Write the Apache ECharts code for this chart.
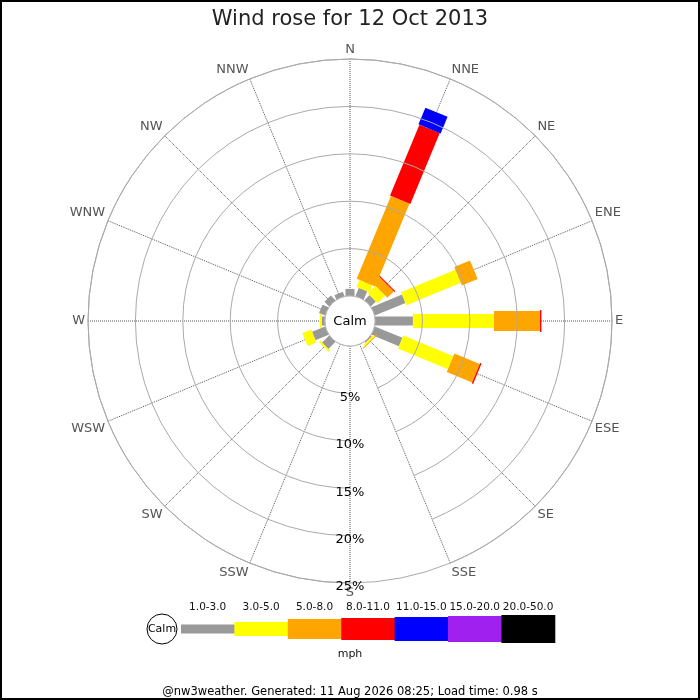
<!DOCTYPE html>
<html>
<head>
<meta charset="utf-8">
<script src="https://cdn.jsdelivr.net/npm/echarts@6/dist/echarts.min.js"></script>
<style>
html, body { margin: 0; padding: 0; background: #fff; }
#chart { width: 700px; height: 700px; }
</style>
</head>
<body>
<div id="chart"></div>
<script>
// directions listed clockwise starting from S, so the % labels sit on the S spoke
var dirs = ['S', 'SSW', 'SW', 'WSW', 'W', 'WNW', 'NW', 'NNW', 'N', 'NNE', 'NE', 'ENE', 'E', 'ESE', 'SE', 'SSE'];
var bands = ['1.0-3.0', '3.0-5.0', '5.0-8.0', '8.0-11.0', '11.0-15.0', '15.0-20.0', '20.0-50.0'];
// % of the day, per direction, per speed band (mph)
var v1to3   = [0, 0, 1.05, 1.5, 0.35, 0.7, 0.7, 0.5, 0.75, 0.95, 0.75, 3.5, 4.0, 3.15, 0.15, 0];
var v3to5   = [0, 0, 0.2, 1.0, 0.2, 0, 0, 0, 0, 0.8, 1.15, 6.2, 8.55, 5.7, 0.2, 0];
var v5to8   = [0, 0, 0, 0, 0, 0, 0, 0, 0, 9.45, 0.95, 1.8, 4.85, 2.9, 0.1, 0];
var v8to11  = [0, 0, 0, 0, 0, 0, 0, 0, 0, 8.1, 0.12, 0, 0.15, 0.15, 0, 0];
var v11to15 = [0, 0, 0, 0, 0, 0, 0, 0, 0, 1.9, 0, 0, 0, 0, 0, 0];
var v15to20 = [0, 0, 0, 0, 0, 0, 0, 0, 0, 0, 0, 0, 0, 0, 0, 0];
var v20to50 = [0, 0, 0, 0, 0, 0, 0, 0, 0, 0, 0, 0, 0, 0, 0, 0];
var pctMax = 25, pctStep = 5;

var colors = ['#999999', '#ffff00', '#ffa500', '#ff0000', '#0000ff', '#a020f0', '#000000'];
var widths = [9, 14, 20, 22, 24, 26, 28]; // bar thickness px, also legend box height
var font = 'DejaVu Sans';

var chart = echarts.init(document.getElementById('chart'));

// straight bar of fixed pixel width along a direction
function makeBar(w, color) {
    return function(params, api) {
        var a = api.value(1);
        var p0 = api.coord([api.value(2), a]);
        var p1 = api.coord([api.value(0), a]);
        var c = api.coord([0, a]);
        var f = api.coord([pctMax, a]);
        var ux = f[0] - c[0], uy = f[1] - c[1];
        var L = Math.sqrt(ux * ux + uy * uy) || 1;
        var nx = -uy / L * w / 2, ny = ux / L * w / 2;
        return {
            type: 'polygon',
            shape: { points: [[p0[0] + nx, p0[1] + ny], [p1[0] + nx, p1[1] + ny], [p1[0] - nx, p1[1] - ny], [p0[0] - nx, p0[1] - ny]] },
            style: { fill: color }
        };
    };
}

var bandVals = [v1to3, v3to5, v5to8, v8to11, v11to15, v15to20, v20to50];
var base = dirs.map(function() { return 0; });
var series = bandVals.map(function(vals, b) {
    var data = [];
    vals.forEach(function(v, i) {
        if (v > 0) data.push([base[i] + v, i, base[i]]);
        base[i] += v;
    });
    return {
        type: 'custom',
        name: bands[b],
        coordinateSystem: 'polar',
        renderItem: makeBar(widths[b], colors[b]),
        data: data,
        silent: true,
        z: 3
    };
});

// legend drawn by hand, like the original
var legend = [];
var lx = 181, lstep = 53.4, ly = 629;
legend.push({ type: 'circle', shape: { cx: 162, cy: ly, r: 15 }, style: { fill: '#fff', stroke: '#000', lineWidth: 1 } });
legend.push({ type: 'text', x: 162, y: ly, style: { text: 'Calm', font: '11px ' + font, fill: '#000', align: 'center', verticalAlign: 'middle' } });
bands.forEach(function(name, i) {
    legend.push({ type: 'rect', shape: { x: lx + i * lstep, y: ly - widths[i] / 2, width: lstep + 0.5, height: widths[i] }, style: { fill: colors[i] } });
    legend.push({ type: 'text', x: lx + i * lstep + lstep / 2, y: 607, style: { text: name, font: '10.5px ' + font, fill: '#111', align: 'center', verticalAlign: 'middle' } });
});
legend.push({ type: 'text', x: 350, y: 654, style: { text: 'mph', font: '11px ' + font, fill: '#111', align: 'center', verticalAlign: 'middle' } });

var option = {
    backgroundColor: '#fff',
    animation: false,
    title: {
        text: 'Wind rose for 12 Oct 2013',
        left: 'center',
        top: 4,
        textStyle: { fontFamily: font, fontSize: 21, fontWeight: 'normal', color: '#222' }
    },
    polar: { center: [350, 321], radius: [25, 262] },
    angleAxis: {
        type: 'category',
        data: dirs,
        startAngle: -90,
        clockwise: true,
        boundaryGap: false,
        axisLine: { show: true, lineStyle: { color: '#aaa', width: 1 } },
        axisTick: { show: false },
        axisLabel: { color: '#555', fontSize: 13, fontFamily: font, margin: 3 },
        splitLine: { show: true, lineStyle: { color: '#555', type: 'dotted', width: 1 } }
    },
    radiusAxis: {
        type: 'value',
        min: 0,
        max: pctMax,
        interval: pctStep,
        axisLine: { show: false },
        axisTick: { show: false },
        axisLabel: {
            formatter: function(v) { return v ? '{p|' + v + '%}' : ''; },
            margin: 0, align: 'center', verticalAlign: 'middle',
            rich: { p: { color: '#000', fontSize: 13, fontFamily: font, padding: [8, 0, 0, 0] } }
        },
        splitLine: { show: true, lineStyle: { color: '#aaa', width: 1 } },
        z: 5
    },
    series: series,
    graphic: [
        { type: 'rect', shape: { x: 1, y: 1, width: 698, height: 698 }, style: { fill: 'none', stroke: '#000', lineWidth: 2 }, z: 100 },
        { type: 'circle', shape: { cx: 350, cy: 321, r: 25 }, style: { fill: '#fff', stroke: '#bbb', lineWidth: 1 }, z: 50 },
        { type: 'text', x: 350, y: 322, style: { text: 'Calm', font: '13px ' + font, fill: '#000', align: 'center', verticalAlign: 'middle' }, z: 51 },
        { type: 'group', children: legend },
        { type: 'text', x: 350, y: 692, style: { text: '@nw3weather. Generated: 11 Aug 2026 08:25; Load time: 0.98 s', font: '11.5px ' + font, fill: '#000', align: 'center', verticalAlign: 'middle' } }
    ]
};
chart.setOption(option);
</script>
</body>
</html>
